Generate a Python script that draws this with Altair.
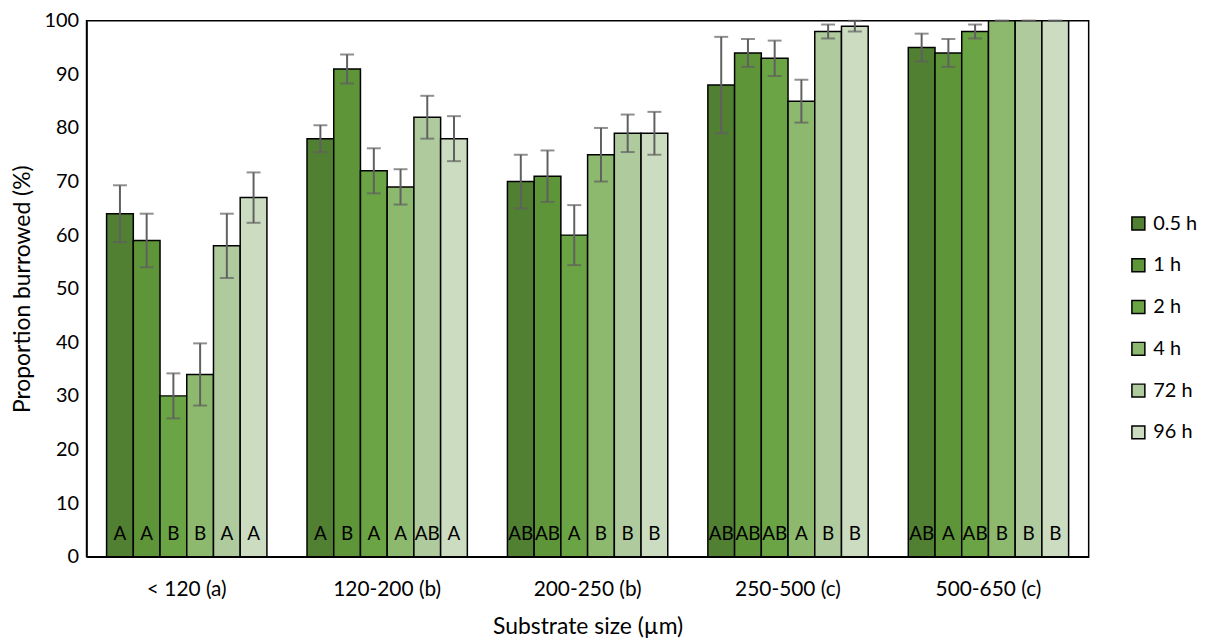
import altair as alt
import pandas as pd

groups = ["< 120 (a)", "120-200 (b)", "200-250 (b)", "250-500 (c)", "500-650 (c)"]
times = ["0.5 h", "1 h", "2 h", "4 h", "72 h", "96 h"]
colors = ["#518033", "#5e9539", "#6ba444", "#8cb96d", "#afcb9d", "#cbdcc1"]

means_g1 = [64, 59, 30, 34, 58, 67]
means_g2 = [78, 91, 72, 69, 82, 78]
means_g3 = [70, 71, 60, 75, 79, 79]
means_g4 = [88, 94, 93, 85, 98, 99]
means_g5 = [95, 94, 98, 100, 100, 100]

err_g1 = [5.3, 5.0, 4.2, 5.8, 6.0, 4.7]
err_g2 = [2.5, 2.7, 4.2, 3.3, 4.0, 4.2]
err_g3 = [5.0, 4.8, 5.6, 5.0, 3.5, 4.0]
err_g4 = [9.0, 2.6, 3.3, 4.0, 1.3, 1.0]
err_g5 = [2.6, 2.6, 1.3, 0.0, 0.0, 0.0]

let_g1 = ["A", "A", "B", "B", "A", "A"]
let_g2 = ["A", "B", "A", "A", "AB", "A"]
let_g3 = ["AB", "AB", "A", "B", "B", "B"]
let_g4 = ["AB", "AB", "AB", "A", "B", "B"]
let_g5 = ["AB", "A", "AB", "B", "B", "B"]

means = [means_g1, means_g2, means_g3, means_g4, means_g5]
errs = [err_g1, err_g2, err_g3, err_g4, err_g5]
lets = [let_g1, let_g2, let_g3, let_g4, let_g5]

rows = []
for gi, g in enumerate(groups):
    for ti, t in enumerate(times):
        m = means[gi][ti]
        e = errs[gi][ti]
        rows.append({"group": g, "time": t, "value": m,
                     "lo": m - e, "hi": min(m + e, 100) if e > 0 else m,
                     "letter": lets[gi][ti], "zero": 0})
df = pd.DataFrame(rows)

FONT = "Lato"

x = alt.X("group:N", sort=groups, title="Substrate size (µm)",
          scale=alt.Scale(paddingInner=0.2, paddingOuter=0.1),
          axis=alt.Axis(labelAngle=0, ticks=False, labelPadding=22, titlePadding=16,
                        labelFontSize=21, domainColor="black", domainWidth=1.5))
xo = alt.XOffset("time:N", sort=times, scale=alt.Scale(paddingInner=0, paddingOuter=0))

base = alt.Chart(df)

bars = base.mark_bar(stroke="black", strokeWidth=1.5).encode(
    x=x,
    xOffset=xo,
    y=alt.Y("value:Q", title="Proportion burrowed (%)",
            scale=alt.Scale(domain=[0, 100], nice=False),
            axis=alt.Axis(values=list(range(0, 101, 10)), ticks=False, grid=False,
                          labelPadding=8, titlePadding=10, labelFontSize=20,
                          domainColor="black", domainWidth=1.5)),
    fill=alt.Fill("time:N", sort=times,
                  scale=alt.Scale(domain=times, range=colors),
                  legend=alt.Legend(title=None, orient="none", legendX=1048, legendY=194,
                                    symbolType="square", symbolSize=170,
                                    symbolStrokeColor="black", symbolStrokeWidth=1.5,
                                    rowPadding=22, labelFontSize=20, labelFont=FONT,
                                    labelColor="black", labelOffset=5)),
)

rules = base.mark_rule(color="#606060", strokeWidth=2).encode(
    x=x, xOffset=xo, y="lo:Q", y2="hi:Q"
)
caps_hi = base.mark_tick(color="#606060", thickness=2, size=14, orient="horizontal").encode(
    x=x, xOffset=xo, y="hi:Q"
)
caps_lo = base.mark_tick(color="#606060", thickness=2, size=14, orient="horizontal").encode(
    x=x, xOffset=xo, y="lo:Q"
)

letters = base.mark_text(fontSize=19, font=FONT, color="black", baseline="middle", dy=-23).encode(
    x=x, xOffset=xo, y="zero:Q", text="letter:N"
)

chart = alt.layer(bars, rules, caps_hi, caps_lo, letters).properties(
    width=1008, height=539,
    padding={"left": 3, "top": 1, "right": 5, "bottom": 0}
).configure_view(
    stroke="black", strokeWidth=1.5
).configure_axis(
    labelFont=FONT, titleFont=FONT, titleFontSize=23,
    labelColor="black", titleColor="black", titleFontWeight="normal"
)

chart.save("out.html", embed_options={"renderer": "svg", "actions": False})
